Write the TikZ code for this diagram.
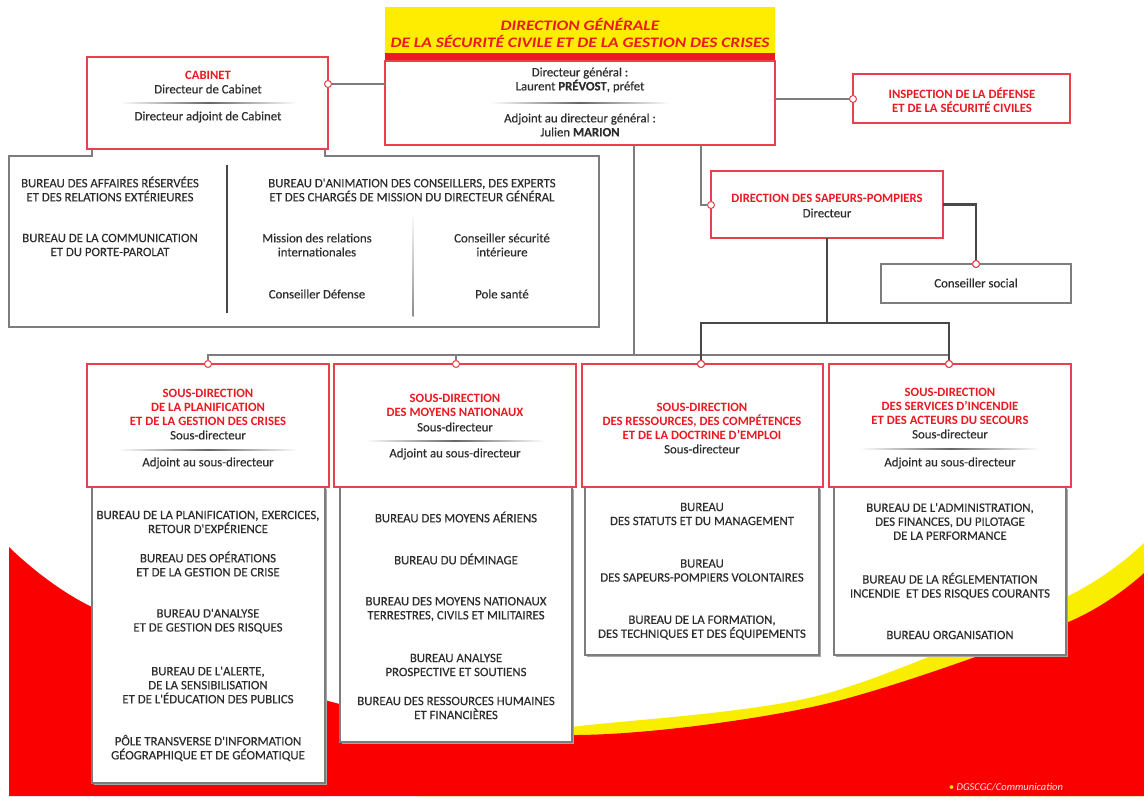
\documentclass[tikz,border=0pt]{standalone}
\usepackage{fontspec}
\setmainfont{Carlito}
\newfontfamily\bodyfont{Carlito}[FakeBold=0.3]
\newfontfamily\hdfont{Carlito}[FakeStretch=1.2]
\usetikzlibrary{calc}
\definecolor{bgred}{RGB}{250,0,0}
\definecolor{bgyel}{RGB}{250,238,0}
\definecolor{hdyel}{RGB}{255,237,0}
\definecolor{txred}{RGB}{236,24,34}
\definecolor{bdred}{RGB}{232,64,76}
\definecolor{txgray}{RGB}{45,45,45}
\definecolor{lngray}{RGB}{125,125,125}
\definecolor{dkln}{RGB}{72,72,72}
\begin{document}
\begin{tikzpicture}[x=1pt,y=-1pt,
  redbox/.style={draw=bdred, line width=1.4pt, fill=white, inner sep=0pt, outer sep=0pt, anchor=north west},
  graybox/.style={draw=lngray, line width=1.1pt, fill=white, inner sep=0pt, outer sep=0pt, anchor=north west},
  txt/.style={align=center, font=\bodyfont\fontsize{12.8}{14}\selectfont, text=txgray, inner sep=0pt},
  rtxt/.style={align=center, font=\fontsize{12.7}{14}\selectfont\bfseries, text=txred, inner sep=0pt},
  dot/.style={circle, draw=bdred, fill=white, line width=1pt, minimum size=7pt, inner sep=0pt},
  thinln/.style={draw=lngray, line width=1.3pt},
  thickln/.style={draw=dkln, line width=2.6pt},
  sepline/.style={left color=white, right color=white, middle color=black!60},
]
\useasboundingbox (0,0) rectangle (1144,796);
% background swoosh
\fill[bgyel] plot[smooth] coordinates {(420,745) (571,727) (821,695) (1066,597) (1144,543)} -- (1144,796) -- (420,796) -- cycle;
\fill[bgred] plot[smooth] coordinates {(9,547) (92,607) (332,702) (571,735) (821,705) (1066,623) (1144,573)} -- (1144,796) -- (9,796) -- cycle;
\node[font=\fontsize{10.5}{12}\selectfont\itshape, text=white!90!red, inner sep=0pt] (credit) at (1006,787) {\textcolor{bgyel}{\textbullet}\ DGSCGC/Communication};

% Direction generale
\node[anchor=north west, minimum width=390pt, minimum height=138pt, inner sep=0pt, outer sep=0pt] (dg) at (385,7) {};
\fill[hdyel] (385,7) rectangle (775,53);
\fill[txred] (385,53) rectangle (775,61);
\draw[draw=bdred, line width=1.4pt, fill=white] (385,61) rectangle (775,145);
\node[align=center, font=\hdfont\fontsize{14.5}{17}\selectfont\bfseries\itshape, text=txred, inner sep=0pt] (dgtitle) at (580,32.5) {DIRECTION GÉNÉRALE\\DE LA SÉCURITÉ CIVILE ET DE LA GESTION DES CRISES};
\node[txt] (dgdir) at (580,80) {Directeur général :\\Laurent \textbf{PRÉVOST}, préfet};
\shade[sepline] (490,102.3) rectangle (670,103.7);
\node[txt] (dgadj) at (580,125) {Adjoint au directeur général :\\Julien \textbf{MARION}};

% Cabinet
\node[redbox, minimum width=241pt, minimum height=92pt] (cab) at (87,57) {};
\node[rtxt] (cabt) at (208,75) {CABINET};
\node[txt] (cabd) at (208,89) {Directeur de Cabinet};
\shade[sepline] (120,102.3) rectangle (297,103.7);
\node[txt] (caba) at (208,117) {Directeur adjoint de Cabinet};
\node[dot] (cabdot) at (328,84) {};
\draw[thinln] (cabdot) -- (cabdot -| dg.west);

% Cabinet bureaux
\draw[draw=lngray, line width=1.1pt] (92,149) -- (92,156) -- (9,156) -- (9,327) -- (599,327) -- (599,156) -- (325,156) -- (325,149);
\draw[dkln, line width=1.1pt] (227,165) -- (227,313);
\shade[top color=white, bottom color=black!45] (412.5,212) rectangle (413.5,316);
\node[txt] (cb1) at (110,189) {BUREAU DES AFFAIRES RÉSERVÉES\\ET DES RELATIONS EXTÉRIEURES};
\node[txt] (cb2) at (110,245) {BUREAU DE LA COMMUNICATION\\ET DU PORTE-PAROLAT};
\node[txt] (cb3) at (412,190) {BUREAU D'ANIMATION DES CONSEILLERS, DES EXPERTS\\ET DES CHARGÉS DE MISSION DU DIRECTEUR GÉNÉRAL};
\node[txt] (cb4) at (317,245) {Mission des relations\\internationales};
\node[txt] (cb5) at (502,245) {Conseiller sécurité\\intérieure};
\node[txt] (cb6) at (317,294) {Conseiller Défense};
\node[txt] (cb7) at (502,294) {Pole santé};

% Inspection
\node[redbox, minimum width=217pt, minimum height=49pt] (insp) at (853,74) {};
\node[rtxt] (inspt) at (962,100) {INSPECTION DE LA DÉFENSE\\ET DE LA SÉCURITÉ CIVILES};
\node[dot] (inspdot) at (853,99) {};
\draw[thinln] (inspdot -| dg.east) -- (inspdot);

% Direction des sapeurs-pompiers
\node[redbox, minimum width=232pt, minimum height=67pt] (dsp) at (711,171) {};
\node[rtxt] (dspt) at (827,198) {DIRECTION DES SAPEURS-POMPIERS};
\node[txt] (dspd) at (827,213) {Directeur};
\node[dot] (dspdot) at (711,205) {};
\coordinate (dgb) at (701,145);
\draw[thinln] (dgb) |- (dspdot);

% Conseiller social
\node[graybox, minimum width=190pt, minimum height=39pt] (cs) at (881,264) {};
\node[txt] (cst) at (976,283) {Conseiller social};

% bottom bureau boxes (drawn before sous-direction boxes)
\foreach \n/\x/\w/\h in {b1/92/233/296, b2/340/232/255, b3/585/234/168, b4/834/232/168}{
  \fill[black!35] (\x+1.5,488.5) rectangle (\x+\w+1.5,487+\h+1.8);
  \node[graybox, minimum width=\w pt, minimum height=\h pt] (\n) at (\x,487) {};
}

% sous-direction boxes
\node[redbox, minimum width=242pt, minimum height=123pt] (sd1) at (87,364) {};
\node[redbox, minimum width=242pt, minimum height=123pt] (sd2) at (334,364) {};
\node[redbox, minimum width=241pt, minimum height=123pt] (sd3) at (582,364) {};
\node[redbox, minimum width=242pt, minimum height=123pt] (sd4) at (829,364) {};
\node[dot] (sd1dot) at (208,364) {};
\node[dot] (sd2dot) at (456,364) {};
\node[dot] (sd3dot) at (701,364) {};
\node[dot] (sd4dot) at (949,364) {};
\node[dot] (csdot) at (976,264) {};

% connectors
\coordinate (jn) at (634,355);
\draw[thinln] (dg.south -| jn) -- (jn);
\draw[thinln] (sd1dot) |- (jn) -- (jn -| sd4dot);
\draw[thinln] (sd2dot) -- (sd2dot |- jn);
\coordinate (dspjn) at (827,323);
\draw[thickln] (dsp.south) -- (dspjn);
\draw[thickln] (sd3dot) |- (dspjn) -| (sd4dot);
\draw[thickln] (dsp.east) -| (csdot);
\node[dot] at (sd3dot) {};
\node[dot] at (sd4dot) {};
\node[dot] at (csdot) {};

% sous-direction texts
\node[rtxt] (sd1t) at (208,407) {SOUS-DIRECTION\\DE LA PLANIFICATION\\ET DE LA GESTION DES CRISES};
\node[txt] (sd1s) at (208,435) {Sous-directeur};
\shade[sepline] (118,449.3) rectangle (298,450.7);
\node[txt] (sd1a) at (208,463) {Adjoint au sous-directeur};

\node[rtxt] (sd2t) at (455,405) {SOUS-DIRECTION\\DES MOYENS NATIONAUX};
\node[txt] (sd2s) at (455,427) {Sous-directeur};
\shade[sepline] (365,440.3) rectangle (545,441.7);
\node[txt] (sd2a) at (455,454) {Adjoint au sous-directeur};

\node[rtxt] (sd3t) at (702,421) {SOUS-DIRECTION\\DES RESSOURCES, DES COMPÉTENCES\\ET DE LA DOCTRINE D'EMPLOI};
\node[txt] (sd3s) at (702,449) {Sous-directeur};

\node[rtxt] (sd4t) at (950,406) {SOUS-DIRECTION\\DES SERVICES D'INCENDIE\\ET DES ACTEURS DU SECOURS};
\node[txt] (sd4s) at (950,434) {Sous-directeur};
\shade[sepline] (860,448.3) rectangle (1040,449.7);
\node[txt] (sd4a) at (950,463) {Adjoint au sous-directeur};

% bureau texts
\node[txt] (b1a) at (208,522) {BUREAU DE LA PLANIFICATION, EXERCICES,\\RETOUR D'EXPÉRIENCE};
\node[txt] (b1b) at (208,564) {BUREAU DES OPÉRATIONS\\ET DE LA GESTION DE CRISE};
\node[txt] (b1c) at (208,621) {BUREAU D'ANALYSE\\ET DE GESTION DES RISQUES};
\node[txt] (b1d) at (208,685) {BUREAU DE L'ALERTE,\\DE LA SENSIBILISATION\\ET DE L'ÉDUCATION DES PUBLICS};
\node[txt] (b1e) at (208,748) {PÔLE TRANSVERSE D'INFORMATION\\GÉOGRAPHIQUE ET DE GÉOMATIQUE};

\node[txt] (b2a) at (456,517) {BUREAU DES MOYENS AÉRIENS};
\node[txt] (b2b) at (456,559) {BUREAU DU DÉMINAGE};
\node[txt] (b2c) at (456,609) {BUREAU DES MOYENS NATIONAUX\\TERRESTRES, CIVILS ET MILITAIRES};
\node[txt] (b2d) at (456,665) {BUREAU ANALYSE\\PROSPECTIVE ET SOUTIENS};
\node[txt] (b2e) at (456,708) {BUREAU DES RESSOURCES HUMAINES\\ET FINANCIÈRES};

\node[txt] (b3a) at (702,514) {BUREAU\\DES STATUTS ET DU MANAGEMENT};
\node[txt] (b3b) at (702,570.5) {BUREAU\\DES SAPEURS-POMPIERS VOLONTAIRES};
\node[txt] (b3c) at (702,627.5) {BUREAU DE LA FORMATION,\\DES TECHNIQUES ET DES ÉQUIPEMENTS};

\node[txt] (b4a) at (950,521.5) {BUREAU DE L'ADMINISTRATION,\\DES FINANCES, DU PILOTAGE\\DE LA PERFORMANCE};
\node[txt] (b4b) at (950,586) {BUREAU DE LA RÉGLEMENTATION\\INCENDIE\ \ ET DES RISQUES COURANTS};
\node[txt] (b4c) at (950,635) {BUREAU ORGANISATION};
\end{tikzpicture}
\end{document}
